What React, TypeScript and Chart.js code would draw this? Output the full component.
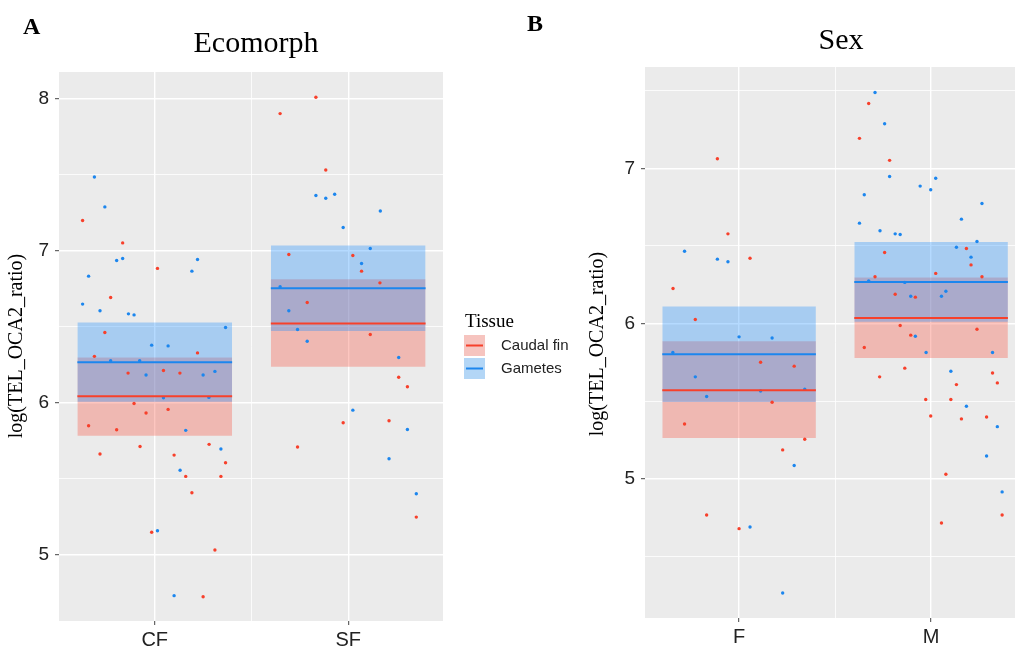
import React, { useEffect, useRef } from 'react';
import { Chart, registerables } from 'chart.js';
Chart.register(...registerables);

const RED = '#f7402b';
const BLUE = '#1c86ee';
const RED_FILL = 'rgba(250,66,46,0.30)';
const BLUE_FILL = 'rgba(30,144,255,0.33)';

// ---------- Panel A : Ecomorph ----------
const ecoCategories = ['CF', 'SF'];
const ecoCaudalX = [0.627,0.834,1.014,0.772,0.742,1.221,0.688,0.862,1.045,1.13,0.893,0.955,1.069,0.658,0.803,0.924,1.281,0.717,1.1,1.366,1.16,1.342,1.192,0.984,1.311,1.25,1.833,1.648,1.884,1.693,2.024,2.069,2.164,1.788,2.114,2.261,2.306,1.974,2.211,1.738,2.352];
const ecoCaudalY = [7.197,7.05,6.882,6.691,6.46,6.326,6.303,6.193,6.21,6.193,5.993,5.93,5.954,5.846,5.82,5.71,5.724,5.66,5.653,5.603,5.513,5.513,5.405,5.145,5.028,4.721,8.009,7.901,7.53,6.974,6.967,6.864,6.787,6.658,6.447,6.166,6.103,5.866,5.879,5.706,5.245];
const ecoGametesX = [0.688,0.742,0.803,0.834,1.221,1.192,0.658,0.627,0.717,0.864,0.893,1.366,0.984,1.069,0.772,0.922,0.955,1.25,1.311,1.045,1.28,1.16,1.342,1.131,1.014,1.1,1.833,1.884,1.93,2.166,1.974,2.114,2.069,1.648,1.693,1.738,1.788,2.261,2.024,2.306,2.211,2.352];
const ecoGametesY = [7.484,7.287,6.934,6.947,6.941,6.864,6.831,6.647,6.603,6.583,6.576,6.493,6.377,6.372,6.274,6.274,6.18,6.18,6.204,6.03,6.033,5.816,5.693,5.553,5.155,4.728,7.362,7.344,7.37,7.26,7.151,7.013,6.914,6.761,6.603,6.48,6.403,6.296,5.949,5.822,5.629,5.399];
const ecoCaudalMean = [6.04, 6.52];
const ecoCaudalLow = [5.78, 6.234];
const ecoCaudalHigh = [6.296, 6.81];
const ecoGametesMean = [6.265, 6.752];
const ecoGametesLow = [6.004, 6.47];
const ecoGametesHigh = [6.526, 7.033];
const ecoYTicks = [5, 5.5, 6, 6.5, 7, 7.5, 8];

// ---------- Panel B : Sex ----------
const sexCategories = ['F', 'M'];
const sexCaudalX = [0.887,0.942,1.057,0.656,0.772,1.112,1.287,1.172,0.716,1.342,1.227,0.831,1.0,1.675,1.627,1.784,2.184,1.758,2.208,2.024,1.708,2.265,1.813,1.918,1.839,2.239,1.894,1.652,1.863,1.732,2.32,2.345,2.132,1.972,2.103,1.998,2.158,2.289,2.077,2.37,2.054];
const sexCaudalY = [7.062,6.578,6.421,6.226,6.026,5.75,5.725,5.492,5.352,5.254,5.185,4.765,4.677,7.419,7.194,7.052,6.484,6.458,6.378,6.323,6.301,6.301,6.189,6.17,5.987,5.963,5.925,5.845,5.712,5.656,5.681,5.617,5.606,5.51,5.51,5.404,5.385,5.397,5.028,4.765,4.714];
const sexGametesX = [0.716,0.887,0.942,1.0,1.172,0.655,0.772,1.342,1.112,0.831,1.287,1.057,1.227,1.708,1.758,1.784,2.024,1.943,1.998,1.652,2.265,1.627,2.158,1.734,1.813,1.839,2.239,2.132,2.208,1.675,1.863,2.077,1.894,2.054,1.918,1.974,2.32,2.103,2.184,2.345,2.289,2.37];
const sexGametesY = [6.466,6.415,6.398,5.914,5.907,5.813,5.656,5.576,5.565,5.529,5.084,4.688,4.262,7.49,7.288,6.948,6.937,6.886,6.862,6.83,6.774,6.647,6.673,6.598,6.578,6.574,6.529,6.492,6.428,6.275,6.265,6.208,6.176,6.176,5.918,5.813,5.813,5.692,5.466,5.335,5.146,4.914];
const sexCaudalMean = [5.57, 6.036];
const sexCaudalLow = [5.262, 5.778];
const sexCaudalHigh = [5.886, 6.297];
const sexGametesMean = [5.802, 6.268];
const sexGametesLow = [5.494, 6.011];
const sexGametesHigh = [6.11, 6.525];
const sexYTicks = [4.5, 5, 5.5, 6, 6.5, 7, 7.5];

const xTicks = [1, 1.5, 2];
const legendTitle = 'Tissue';
const legendLabels = ['Caudal fin', 'Gametes'];
const yTitle = 'log(TEL_OCA2_ratio)';

const SANS = '"Liberation Sans", Arial, sans-serif';
const SERIF = '"Liberation Serif", "Times New Roman", serif';

function pts(xs: number[], ys: number[]) {
  return xs.map((x, i) => ({ x, y: ys[i] }));
}

function buildDatasets(s: any) {
  const ds: any[] = [];
  s.categories.forEach((_: string, i: number) => {
    const c = i + 1;
    ds.push({
      data: [{ x: c - 0.4, y: s.caudalHigh[i] }, { x: c + 0.4, y: s.caudalHigh[i] }],
      fill: { value: s.caudalLow[i] }, backgroundColor: RED_FILL, borderWidth: 0,
      pointRadius: 0, order: 10,
    });
    ds.push({
      data: [{ x: c - 0.4, y: s.gametesHigh[i] }, { x: c + 0.4, y: s.gametesHigh[i] }],
      fill: { value: s.gametesLow[i] }, backgroundColor: BLUE_FILL, borderWidth: 0,
      pointRadius: 0, order: 9,
    });
  });
  ds.push({ data: pts(s.caudalX, s.caudalY), showLine: false, pointRadius: 1.7, pointBackgroundColor: RED, pointBorderWidth: 0, order: 6 });
  ds.push({ data: pts(s.gametesX, s.gametesY), showLine: false, pointRadius: 1.7, pointBackgroundColor: BLUE, pointBorderWidth: 0, order: 5 });
  s.categories.forEach((_: string, i: number) => {
    const c = i + 1;
    ds.push({ data: [{ x: c - 0.4, y: s.caudalMean[i] }, { x: c + 0.4, y: s.caudalMean[i] }], borderColor: RED, borderWidth: 2, pointRadius: 0, fill: false, order: 2 });
    ds.push({ data: [{ x: c - 0.4, y: s.gametesMean[i] }, { x: c + 0.4, y: s.gametesMean[i] }], borderColor: BLUE, borderWidth: 2, pointRadius: 0, fill: false, order: 1 });
  });
  return ds;
}

const isMajor = (v: number) => Math.abs(v - Math.round(v)) < 1e-9;

function buildConfig(s: any): any {
  const bgPlugin = {
    id: 'panelBg',
    beforeDraw(chart: any) {
      const { ctx, chartArea: a } = chart;
      ctx.save();
      ctx.fillStyle = '#ebebeb';
      ctx.fillRect(a.left, a.top, a.right - a.left, a.bottom - a.top);
      ctx.restore();
    },
  };
  const textPlugin = {
    id: 'panelText',
    afterDraw(chart: any) {
      const ctx = chart.ctx;
      ctx.save();
      ctx.fillStyle = '#000';
      ctx.textBaseline = 'alphabetic';
      ctx.font = `bold 24px ${SERIF}`;
      ctx.textAlign = 'left';
      ctx.fillText(s.letter, s.letterX, s.letterY);
      ctx.font = `30px ${SERIF}`;
      ctx.textAlign = 'center';
      ctx.fillText(s.title, s.titleX, s.titleY);
      ctx.save();
      ctx.translate(s.yTitleX, s.yTitleY);
      ctx.rotate(-Math.PI / 2);
      ctx.font = `20px ${SERIF}`;
      ctx.textAlign = 'center';
      ctx.textBaseline = 'middle';
      ctx.fillText(yTitle, 0, 0);
      ctx.restore();
      if (s.legend) {
        ctx.font = `19px ${SERIF}`;
        ctx.textAlign = 'left';
        ctx.fillText(legendTitle, 465, 327);
        const keys = [
          { y: 335, fill: '#f6c4bf', line: RED },
          { y: 358, fill: '#b3d6f6', line: BLUE },
        ];
        keys.forEach((k, i) => {
          ctx.fillStyle = k.fill;
          ctx.fillRect(464, k.y, 21, 21);
          ctx.strokeStyle = k.line;
          ctx.lineWidth = 2;
          ctx.beginPath();
          ctx.moveTo(466, k.y + 10.5);
          ctx.lineTo(483, k.y + 10.5);
          ctx.stroke();
          ctx.fillStyle = '#222';
          ctx.font = `15px ${SANS}`;
          ctx.textBaseline = 'middle';
          ctx.fillText(legendLabels[i], 501, k.y + 11);
          ctx.textBaseline = 'alphabetic';
        });
      }
      ctx.restore();
    },
  };
  return {
    type: 'line',
    data: { datasets: buildDatasets(s) },
    plugins: [bgPlugin, textPlugin],
    options: {
      animation: false,
      responsive: false,
      layout: { padding: s.padding },
      plugins: { legend: { display: false }, tooltip: { enabled: false } },
      scales: {
        x: {
          type: 'linear', min: s.xMin, max: s.xMax,
          afterBuildTicks: (sc: any) => { sc.ticks = xTicks.map((v) => ({ value: v })); },
          afterFit: (sc: any) => { sc.height = s.xAxisHeight; },
          border: { display: false },
          grid: {
            color: '#ffffff',
            lineWidth: (c: any) => (c.tick && isMajor(c.tick.value) ? 1.4 : 0.8),
            tickColor: (c: any) => (c.tick && isMajor(c.tick.value) ? '#444' : 'rgba(0,0,0,0)'),
            tickLength: 4, tickWidth: 1,
          },
          ticks: {
            autoSkip: false, maxRotation: 0, padding: 3, color: '#222',
            font: { family: SANS, size: 20 },
            callback: (v: number) => (isMajor(v) ? s.categories[Math.round(v) - 1] : ''),
          },
        },
        y: {
          type: 'linear', min: s.yMin, max: s.yMax,
          afterBuildTicks: (sc: any) => { sc.ticks = s.yTicks.map((v: number) => ({ value: v })); },
          afterFit: (sc: any) => { sc.width = s.yAxisWidth; },
          border: { display: false },
          grid: {
            color: '#ffffff',
            lineWidth: (c: any) => (c.tick && isMajor(c.tick.value) ? 1.4 : 0.8),
            tickColor: (c: any) => (c.tick && isMajor(c.tick.value) ? '#444' : 'rgba(0,0,0,0)'),
            tickLength: 4, tickWidth: 1,
          },
          ticks: {
            autoSkip: false, padding: 6, color: '#222',
            font: { family: SANS, size: 19 },
            callback: (v: number) => (isMajor(v) ? String(Math.round(v)) : ''),
          },
        },
      },
    },
  };
}

const panelA = {
  categories: ecoCategories,
  caudalX: ecoCaudalX, caudalY: ecoCaudalY, gametesX: ecoGametesX, gametesY: ecoGametesY,
  caudalMean: ecoCaudalMean, caudalLow: ecoCaudalLow, caudalHigh: ecoCaudalHigh,
  gametesMean: ecoGametesMean, gametesLow: ecoGametesLow, gametesHigh: ecoGametesHigh,
  yTicks: ecoYTicks, xMin: 0.505, xMax: 2.49, yMin: 4.561, yMax: 8.175,
  padding: { top: 72, right: 580 - 443, left: 0, bottom: 0 },
  yAxisWidth: 59, xAxisHeight: 25,
  letter: 'A', letterX: 23, letterY: 34,
  title: 'Ecomorph', titleX: 256, titleY: 52,
  yTitleX: 17, yTitleY: 346, legend: true,
};

const panelB = {
  categories: sexCategories,
  caudalX: sexCaudalX, caudalY: sexCaudalY, gametesX: sexGametesX, gametesY: sexGametesY,
  caudalMean: sexCaudalMean, caudalLow: sexCaudalLow, caudalHigh: sexCaudalHigh,
  gametesMean: sexGametesMean, gametesLow: sexGametesLow, gametesHigh: sexGametesHigh,
  yTicks: sexYTicks, xMin: 0.51, xMax: 2.437, yMin: 4.101, yMax: 7.654,
  padding: { top: 67, right: 0, left: 0, bottom: 0 },
  yAxisWidth: 135, xAxisHeight: 28,
  letter: 'B', letterX: 17, letterY: 31,
  title: 'Sex', titleX: 331, titleY: 49,
  yTitleX: 88, yTitleY: 344, legend: false,
};

function Panel({ spec, left, width }: { spec: any; left: number; width: number }) {
  const ref = useRef<HTMLCanvasElement>(null);
  useEffect(() => {
    const chart = new Chart(ref.current as HTMLCanvasElement, buildConfig(spec));
    return () => chart.destroy();
  }, [spec]);
  return (
    <canvas
      ref={ref}
      width={width}
      height={646}
      style={{ position: 'absolute', left, top: 0, width, height: 646 }}
    />
  );
}

export default function App() {
  return (
    <div style={{ position: 'fixed', left: 0, top: 0, width: 1019, height: 646, background: '#fff', overflow: 'hidden' }}>
      <Panel spec={panelA} left={0} width={580} />
      <Panel spec={panelB} left={510} width={509} />
    </div>
  );
}
